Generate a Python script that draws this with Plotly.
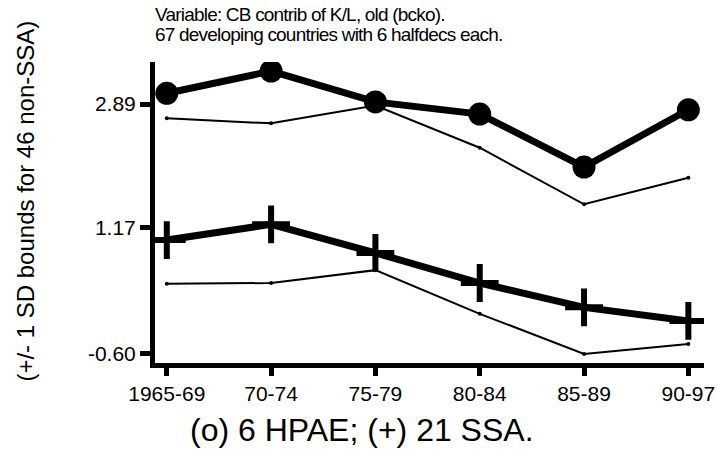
import plotly.graph_objects as go

periods = ["1965-69", "70-74", "75-79", "80-84", "85-89", "90-97"]
hpae = [3.04, 3.35, 2.92, 2.75, 2.01, 2.81]
ssa = [0.99, 1.21, 0.81, 0.39, 0.05, -0.14]
upper_bound = [2.69, 2.62, 2.87, 2.28, 1.49, 1.86]
lower_bound = [0.38, 0.39, 0.57, -0.04, -0.60, -0.46]
ytick_vals = [-0.60, 1.17, 2.89]
ytick_text = ["-0.60", "1.17", "2.89"]

FONT = "Arial, Liberation Sans, sans-serif"

fig = go.Figure()
for ys in (upper_bound, lower_bound):
    fig.add_trace(go.Scatter(
        x=periods, y=ys, mode="lines+markers",
        line=dict(color="black", width=2),
        marker=dict(color="black", size=4),
        showlegend=False, hoverinfo="skip"))

fig.add_trace(go.Scatter(
    x=periods, y=hpae, mode="lines+markers",
    line=dict(color="black", width=7),
    marker=dict(symbol="circle", color="black", size=23),
    showlegend=False))
fig.add_trace(go.Scatter(
    x=periods, y=ssa, mode="lines+markers",
    line=dict(color="black", width=7),
    marker=dict(symbol="cross-thin", color="black", size=27,
                line=dict(color="black", width=6)),
    showlegend=False))

W, H = 717, 449
L, R, T, B = 155, 2, 62, 86
pw, ph = W - L - R, H - T - B

def px(x):
    return (x - L) / pw

def py(y):
    return (H - B - y) / ph

def tight(s, sp):
    return '<span style="letter-spacing:%spx">%s</span>' % (sp, s)

fig.update_layout(
    width=W, height=H,
    margin=dict(l=L, r=R, t=T, b=B),
    paper_bgcolor="white", plot_bgcolor="white",
    font=dict(family=FONT, color="black"),
    xaxis=dict(
        type="category", range=[-0.113, 5.15],
        showline=True, linewidth=5, linecolor="black",
        ticks="outside", ticklen=8, tickwidth=5, tickcolor="black",
        tickfont=dict(size=21, family=FONT),
        showgrid=False, zeroline=False),
    yaxis=dict(
        range=[-0.727, 3.477],
        tickvals=ytick_vals, ticktext=ytick_text,
        showline=True, linewidth=5, linecolor="black",
        ticks="outside", ticklen=10, tickwidth=5, tickcolor="black",
        tickfont=dict(size=21, family=FONT),
        showgrid=False, zeroline=False),
    annotations=[
        dict(text=tight("Variable: CB contrib of K/L, old (bcko).", -0.8), xref="paper", yref="paper",
             x=px(153), y=py(15), xanchor="left", yanchor="middle", showarrow=False,
             font=dict(size=19, family=FONT)),
        dict(text=tight("67 developing countries with 6 halfdecs each.", -0.8), xref="paper", yref="paper",
             x=px(153), y=py(34), xanchor="left", yanchor="middle", showarrow=False,
             font=dict(size=19, family=FONT)),
        dict(text="(o) 6 HPAE; (+) 21 SSA.", xref="paper", yref="paper",
             x=px(366), y=py(430), xanchor="center", yanchor="middle", showarrow=False,
             font=dict(size=32, family=FONT)),
        dict(text="(+/- 1 SD bounds for 46 non-SSA)", xref="paper", yref="paper",
             x=px(22), y=py(201), xanchor="center", yanchor="middle", showarrow=False,
             textangle=-90, font=dict(size=24, family=FONT)),
    ],
)

fig.write_html("out.html")
